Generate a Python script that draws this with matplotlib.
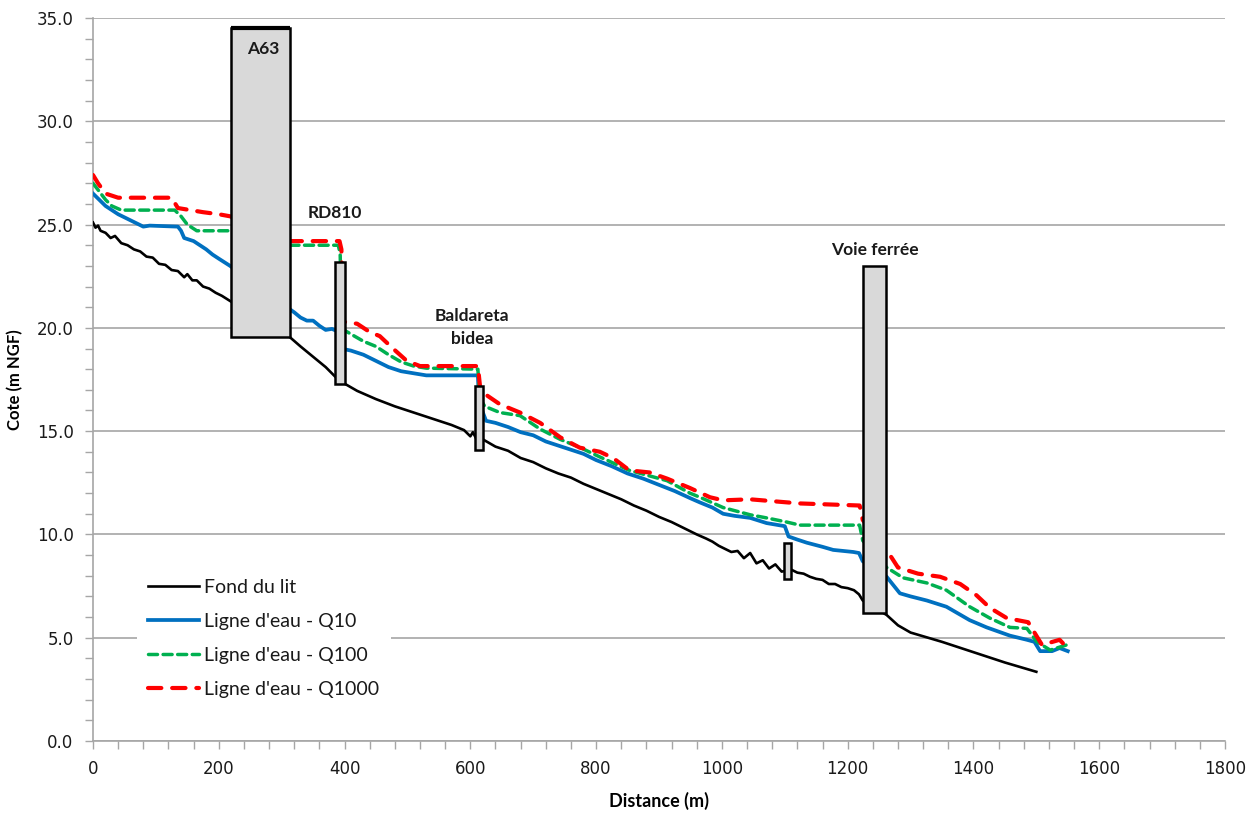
import matplotlib
matplotlib.use("Agg")
import matplotlib.pyplot as plt
from matplotlib.patches import Rectangle
from matplotlib.ticker import MultipleLocator, FormatStrFormatter

# ---------------- data ----------------
bed_x = [0, 4, 8, 12, 20, 28, 35, 45, 55, 65, 75, 85, 95, 105, 115, 125, 135, 145, 150, 158,
         165, 175, 185, 195, 205, 218, 313, 330, 350, 370, 388, 400, 420, 450, 480, 510, 540,
         570, 590, 600, 604, 610, 620, 640, 660, 680, 700, 720, 740, 760, 780, 800, 820, 840,
         860, 880, 900, 920, 940, 960, 975, 985, 995, 1005, 1015, 1025, 1035, 1045, 1055, 1065,
         1075, 1085, 1095, 1110, 1120, 1130, 1140, 1150, 1160, 1170, 1180, 1190, 1200, 1210,
         1218, 1224, 1262, 1280, 1300, 1350, 1400, 1450, 1500]
bed_y = [25.1, 24.85, 24.95, 24.7, 24.6, 24.35, 24.45, 24.1, 24.0, 23.8, 23.7, 23.45, 23.4, 23.1,
         23.05, 22.8, 22.75, 22.45, 22.6, 22.3, 22.3, 22.0, 21.9, 21.7, 21.55, 21.3, 19.55, 19.1,
         18.6, 18.1, 17.55, 17.3, 16.95, 16.55, 16.2, 15.9, 15.6, 15.3, 15.05, 14.75, 14.95,
         14.6, 14.6, 14.25, 14.05, 13.7, 13.5, 13.2, 12.95, 12.75, 12.45, 12.2, 11.95, 11.7,
         11.4, 11.15, 10.85, 10.6, 10.3, 10.0, 9.8, 9.65, 9.45, 9.3, 9.15, 9.2, 8.85, 9.1, 8.6,
         8.75, 8.35, 8.55, 8.2, 8.3, 8.15, 8.1, 7.95, 7.85, 7.8, 7.6, 7.6, 7.45, 7.4, 7.3, 7.1,
         6.8, 6.1, 5.6, 5.25, 4.8, 4.3, 3.8, 3.35]

q10_x = [0, 10, 20, 30, 40, 50, 60, 70, 80, 90, 135, 140, 145, 160, 170, 180, 190, 200, 218,
         313, 320, 330, 340, 350, 360, 370, 380, 391, 394, 410, 430, 450, 470, 490, 510, 530,
         612, 614, 620, 625, 640, 660, 680, 700, 720, 740, 760, 780, 800, 825, 850, 875, 900,
         925, 950, 965, 985, 1002, 1020, 1045, 1071, 1100, 1106, 1120, 1135, 1160, 1177, 1209,
         1218, 1224, 1262, 1283, 1300, 1326, 1357, 1394, 1421, 1458, 1485, 1497, 1506, 1525,
         1537, 1550]
q10_y = [26.5, 26.2, 25.9, 25.7, 25.5, 25.35, 25.2, 25.05, 24.9, 24.95, 24.9, 24.7, 24.35,
         24.2, 24.0, 23.8, 23.55, 23.35, 23.0, 20.9, 20.75, 20.5, 20.35, 20.35, 20.1, 19.9,
         19.95, 19.8, 19.0, 18.9, 18.7, 18.4, 18.1, 17.9, 17.8, 17.7, 17.7, 16.3, 15.9, 15.5,
         15.4, 15.2, 14.95, 14.8, 14.5, 14.3, 14.1, 13.9, 13.6, 13.3, 12.95, 12.7, 12.4, 12.1,
         11.75, 11.55, 11.3, 11.0, 10.9, 10.8, 10.55, 10.4, 9.9, 9.75, 9.6, 9.4, 9.25, 9.15,
         9.1, 8.7, 7.95, 7.15, 7.0, 6.8, 6.5, 5.85, 5.5, 5.1, 4.9, 4.8, 4.35, 4.35, 4.5, 4.35]

q100_x = [0, 10, 20, 30, 45, 130, 140, 150, 165, 218, 313, 390, 393, 396, 410, 430, 450, 470,
          490, 510, 530, 612, 615, 623, 647, 679, 711, 743, 775, 806, 853, 913, 949, 965, 1002,
          1045, 1071, 1103, 1124, 1219, 1224, 1262, 1288, 1326, 1357, 1394, 1426, 1458, 1485,
          1501, 1522, 1548]
q100_y = [27.0, 26.6, 26.2, 25.9, 25.7, 25.7, 25.4, 25.0, 24.7, 24.7, 24.0, 24.0, 23.6, 19.95,
          19.7, 19.35, 19.1, 18.7, 18.35, 18.15, 18.05, 18.0, 16.6, 16.2, 15.9, 15.75, 15.1,
          14.6, 14.2, 13.75, 13.1, 12.6, 12.0, 11.8, 11.3, 10.95, 10.8, 10.6, 10.45, 10.45, 9.7,
          8.4, 7.9, 7.65, 7.3, 6.5, 5.95, 5.5, 5.45, 4.8, 4.4, 4.65]

q1000_x = [0, 8, 20, 40, 125, 135, 175, 200, 218, 313, 392, 395, 397, 420, 440, 456, 477, 499,
           520, 612, 616, 623, 647, 679, 711, 743, 774, 806, 827, 853, 885, 913, 949, 981, 1002,
           1045, 1124, 1219, 1224, 1262, 1280, 1312, 1347, 1379, 1405, 1426, 1453, 1487, 1495,
           1509, 1537, 1548]
q1000_y = [27.4, 27.0, 26.5, 26.3, 26.3, 25.8, 25.6, 25.5, 25.4, 24.2, 24.2, 23.8, 20.3, 20.2,
           19.8, 19.6, 19.0, 18.4, 18.15, 18.15, 17.0, 16.8, 16.3, 15.9, 15.4, 14.7, 14.2, 14.0,
           13.7, 13.1, 13.0, 12.7, 12.25, 11.8, 11.65, 11.7, 11.5, 11.4, 10.7, 9.25, 8.4, 8.1,
           7.95, 7.6, 7.05, 6.45, 5.95, 5.75, 5.35, 4.65, 4.9, 4.55]

series_names = ["Fond du lit", "Ligne d'eau - Q10", "Ligne d'eau - Q100", "Ligne d'eau - Q1000"]

bridge_names = ["A63", "RD810", "Baldareta\nbidea", "", "Voie ferrée"]
bridge_x0 = [219, 385, 607, 1098, 1224]
bridge_x1 = [313, 401, 620, 1110, 1261]
bridge_bottom = [19.55, 17.3, 14.1, 7.85, 6.2]
bridge_top = [34.5, 23.2, 17.2, 9.6, 23.0]

# ---------------- figure ----------------
plt.rcParams['font.family'] = ['Lato', 'DejaVu Sans']
fig = plt.figure(figsize=(12.57, 8.14), dpi=100)
ax = fig.add_axes([93 / 1257, 73 / 814, (1225 - 93) / 1257, (741 - 18) / 814])

ax.set_xlim(0, 1800)
ax.set_ylim(0, 35)

grid_col = '#a6a6a6'
ax.yaxis.set_major_locator(MultipleLocator(5))
ax.yaxis.set_minor_locator(MultipleLocator(1))
ax.xaxis.set_major_locator(MultipleLocator(200))
ax.xaxis.set_minor_locator(MultipleLocator(40))
ax.yaxis.set_major_formatter(FormatStrFormatter('%.1f'))
ax.grid(axis='y', which='major', color=grid_col, linewidth=1.2, zorder=0)
ax.set_axisbelow(True)
for s in ['top', 'right']:
    ax.spines[s].set_visible(False)
for s in ['left', 'bottom']:
    ax.spines[s].set_color(grid_col)
    ax.spines[s].set_linewidth(1.2)
ax.tick_params(axis='both', which='both', direction='out', color=grid_col, width=1.0)
ax.tick_params(axis='both', which='major', length=6, labelsize=12, pad=8)
ax.tick_params(axis='both', which='minor', length=6)
for lab in ax.get_xticklabels() + ax.get_yticklabels():
    lab.set_family('DejaVu Sans')
    lab.set_color('#1a1a1a')

ax.plot(bed_x, bed_y, color='black', lw=1.9, zorder=3, label=series_names[0])
ax.plot(q10_x, q10_y, color='#0070C0', lw=2.7, zorder=3, label=series_names[1])
ax.plot(q100_x, q100_y, color='#00B050', lw=2.5, zorder=3, dashes=(2.6, 1.6),
        dash_capstyle='round', label=series_names[2])
ax.plot(q1000_x, q1000_y, color='#FF0000', lw=3.0, zorder=3, dashes=(3.2, 2.6),
        dash_capstyle='round', label=series_names[3])

for i in range(len(bridge_names)):
    rect = Rectangle((bridge_x0[i], bridge_bottom[i]), bridge_x1[i] - bridge_x0[i],
                     bridge_top[i] - bridge_bottom[i], facecolor='#d9d9d9',
                     edgecolor='black', linewidth=1.8, zorder=5)
    ax.add_patch(rect)
# thicker top edge on A63
ax.plot([bridge_x0[0], bridge_x1[0]], [bridge_top[0], bridge_top[0]], color='black',
        lw=3, zorder=6, solid_capstyle='butt')

lab_kw = dict(fontsize=12.5, fontweight='bold', color='#1a1a1a', ha='center', va='center', zorder=7)
ax.text(270, 33.5, bridge_names[0], **lab_kw)
ax.text(385, 25.55, bridge_names[1], **lab_kw)
ax.text(603, 20.0, bridge_names[2], linespacing=1.55, **lab_kw)
ax.text(1243, 23.75, bridge_names[4], **lab_kw)

ax.set_xlabel('Distance (m)', fontsize=13, fontweight='bold', labelpad=10)
ax.set_ylabel('Cote (m NGF)', fontsize=12, fontweight='bold', labelpad=10)

leg = ax.legend(loc='lower left', bbox_to_anchor=(0.03, 0.03), fontsize=14,
                frameon=True, facecolor='white', edgecolor='none', framealpha=1,
                handlelength=2.6, handletextpad=0.25, labelspacing=0.88, borderpad=0.6,
                fancybox=False)
leg.set_zorder(10)
for t in leg.get_texts():
    t.set_color('#1a1a1a')

fig.savefig('out.png', dpi=100)
